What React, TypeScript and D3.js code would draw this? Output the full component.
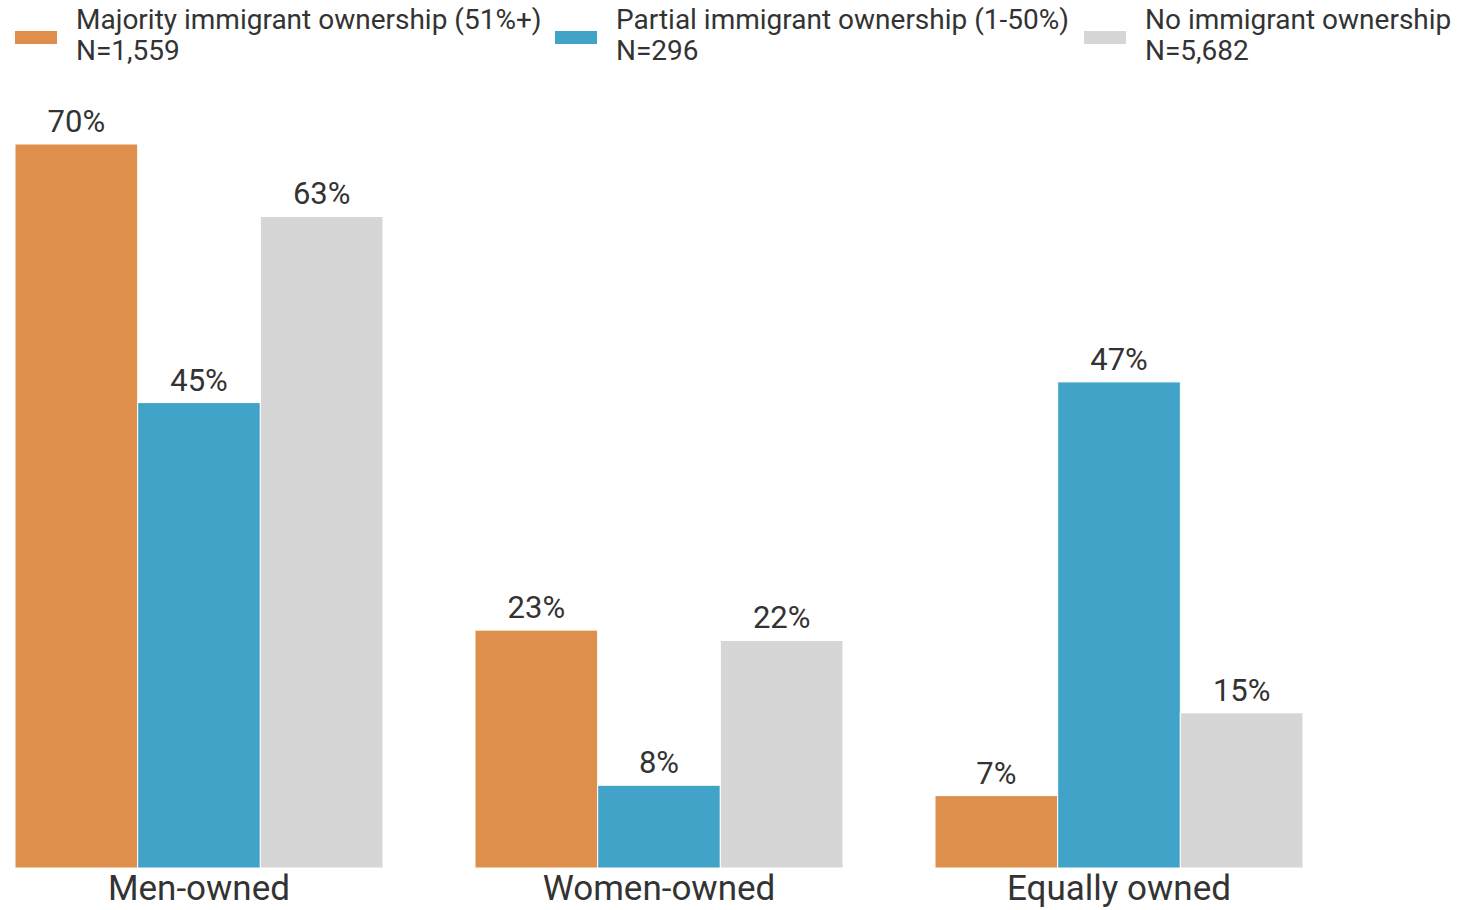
import React from "react";
import * as d3 from "d3";

const categories = ["Men-owned", "Women-owned", "Equally owned"];
const seriesNames = ["Majority immigrant ownership (51%+)", "Partial immigrant ownership (1-50%)", "No immigrant ownership"];
const seriesN = ["N=1,559", "N=296", "N=5,682"];
const majority = [70, 23, 7];
const partial = [45, 8, 47];
const none = [63, 22, 15];
const colors = ["#DE8F4B", "#42A3C8", "#D6D6D6"];

const W = 1460;
const H = 910;
const FONT = "Roboto, 'Noto Sans', sans-serif";
const TEXT = "#333333";

export default function App() {
  const series = [majority, partial, none];
  const x0 = d3.scaleBand<string>().domain(categories).range([15, 1303]).paddingInner(0.2).paddingOuter(0);
  const x1 = d3.scaleBand<number>().domain([0, 1, 2]).range([0, x0.bandwidth()]).padding(0);
  const y = d3.scaleLinear().domain([0, 70]).range([868, 144]);
  const legendX = [15, 555, 1084];

  return (
    <svg width={W} height={H} style={{ position: "absolute", left: 0, top: 0, background: "#fff" }} fontFamily={FONT}>
      {seriesNames.map((name, i) => (
        <g key={name} transform={`translate(${legendX[i]},0)`}>
          <rect x={0} y={31} width={42} height={13} fill={colors[i]} />
          <text x={61} y={29} fontSize={28} fill={TEXT}>{name}</text>
          <text x={61} y={60} fontSize={28} fill={TEXT}>{seriesN[i]}</text>
        </g>
      ))}
      {categories.map((c, ci) => (
        <g key={c} transform={`translate(${x0(c)},0)`}>
          {series.map((s, si) => (
            <g key={si}>
              <rect
                x={x1(si)}
                y={y(s[ci])}
                width={x1.bandwidth()}
                height={y(0) - y(s[ci])}
                fill={colors[si]}
                stroke="#ffffff"
                strokeWidth={1}
              />
              <text
                x={(x1(si) as number) + x1.bandwidth() / 2}
                y={y(s[ci]) - 12}
                textAnchor="middle"
                fontSize={31}
                fill={TEXT}
              >
                {s[ci]}%
              </text>
            </g>
          ))}
          <text x={x0.bandwidth() / 2} y={900} textAnchor="middle" fontSize={35} fill={TEXT}>
            {c}
          </text>
        </g>
      ))}
    </svg>
  );
}
